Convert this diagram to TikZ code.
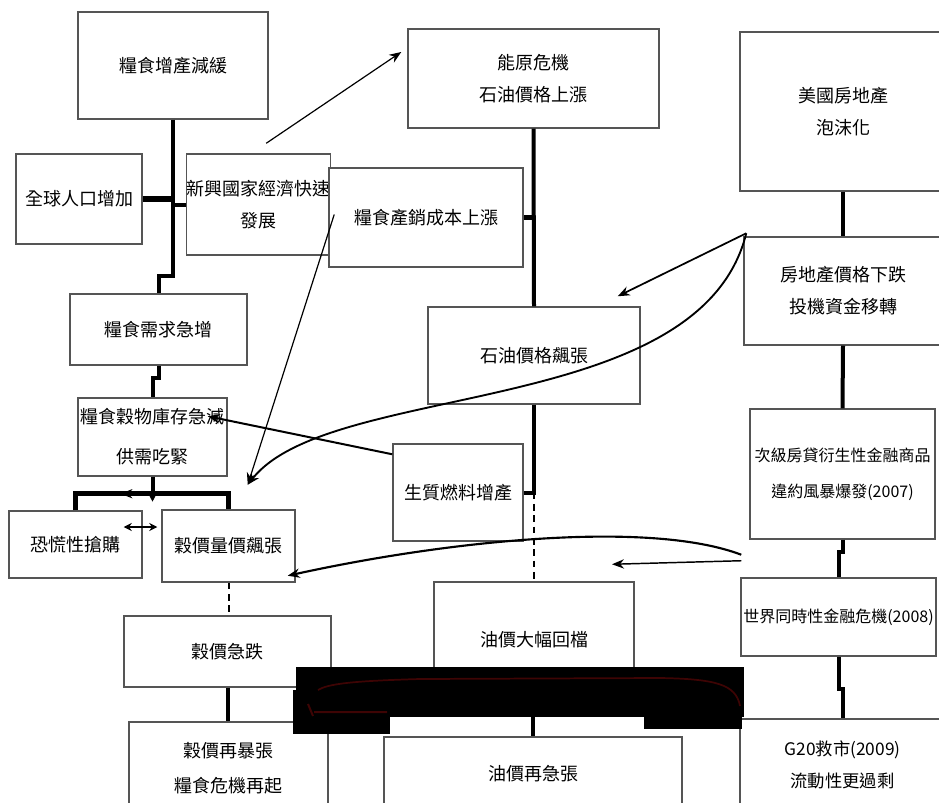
\documentclass[tikz,border=0pt]{standalone}
\usepackage{fontspec}
\setmainfont{Noto Sans CJK TC}
\usepackage{tikz}
\usetikzlibrary{arrows.meta,calc}
\definecolor{edge}{HTML}{555555}
\definecolor{blot}{HTML}{3E0404}
\tikzset{
  box/.style 2 args={draw=edge,line width=1.1pt,fill=white,inner sep=0pt,align=center,
    minimum width=#1*0.75pt,minimum height=#2*0.75pt,font=\fontsize{13.5}{24}\selectfont},
  tree/.style={line width=3pt},
  fat/.style={line width=4pt},
  dashlink/.style={line width=1.5pt,dash pattern=on 5pt off 3.5pt},
  arr/.style={-{Stealth[length=9pt,width=7pt]},line width=#1},
  arr/.default=0.9pt,
}

\begin{document}
\begin{tikzpicture}[x=0.75pt,y=-0.75pt]
\useasboundingbox (0,0) rectangle (939,803);
\clip (0,0) rectangle (939,803);
% food column
\node[box={190}{107}] (zengchan) at (173,65.5) {糧食增產減緩};
\node[box={126}{90}] (renkou) at (79,199) {全球人口增加};
\node[box={137}{101}] (xinxing) at (258.5,204.5) {新興國家經濟快速\\發展};
\node[box={177}{71}] (xuqiu) at (158.5,329.5) {糧食需求急增};
\node[box={149}{78},font=\fontsize{13.5}{30}\selectfont] (kucun) at (152.5,437) {糧食穀物庫存急減\\供需吃緊};
\node[box={133}{67}] (konghuang) at (75.5,544.5) {恐慌性搶購};
\node[box={133}{72}] (guzhang) at (228.5,546) {穀價量價飆張};
\node[box={207}{71}] (gudie) at (227.5,651.5) {穀價急跌};
\node[box={199}{93},font=\fontsize{13.5}{26}\selectfont] (guzai) at (228.5,768.5) {穀價再暴張\\糧食危機再起};
% oil column
\node[box={251}{99}] (nengyuan) at (533.5,78.5) {能原危機\\石油價格上漲};
\node[box={194}{99}] (chanxiao) at (426,217.5) {糧食產銷成本上漲};
\node[box={212}{97}] (shiyou) at (534,355.5) {石油價格飆張};
\node[box={130}{97}] (shengzhi) at (458,492.5) {生質燃料增產};
\node[box={200}{116}] (huidang) at (534,640) {油價大幅回檔};
\node[box={298}{73}] (zaiji) at (533,773.5) {油價再急張};
% finance column
\node[box={206}{159}] (meiguo) at (843,111.5) {美國房地產\\泡沫化};
\node[box={198}{108}] (fangjia) at (843,291) {房地產價格下跌\\投機資金移轉};
\node[box={185}{130},font=\fontsize{12}{27}\selectfont] (ciji) at (842.5,474) {次級房貸衍生性金融商品\\違約風暴爆發(2007)};
\node[box={195}{78},font=\fontsize{12}{20}\selectfont] (shijie) at (838.5,617) {世界同時性金融危機(2008)};
\node[box={205}{91},font=\fontsize{13}{24}\selectfont] (g20) at (842.5,764.5) {G20救市(2009)\\流動性更過剩};

% tree lines
\draw[tree] (zengchan.south) -- ++(0,156) -| (xuqiu.north);
\draw[fat] (renkou.east) -- (zengchan.south |- renkou.east);
\draw[tree] (zengchan.south |- xinxing.west) -- (xinxing.west);
\draw[tree] (xuqiu.south) -- ++(0,12) -| (kucun.north);
\coordinate (split) at ($(kucun.south)+(0,17)$);
\draw[fat] (konghuang.north) |- (split) -| (guzhang.north);
\draw[tree,-{Stealth[length=6pt,width=6pt]}] (kucun.south) -- ($(split)+(0,8)$);
\draw[arr=1pt] (split) -- ++(-32,0);
\draw[{Stealth[length=6pt,width=6pt]}-{Stealth[length=6pt,width=6pt]},line width=1.6pt] ($(konghuang.east)+(-19,-17.5)$) -- ($(guzhang.west |- konghuang.east)+(-4,-17.5)$);
\draw[dashlink] (guzhang.south) -- (guzhang.south |- gudie.north);
\draw[tree] (gudie.south) -- (gudie.south |- guzai.north);
\draw[tree] (nengyuan.south) -- (shiyou.north);
\draw[fat] (nengyuan.south |- chanxiao.east) -- (chanxiao.east);
\draw[tree] (shiyou.south) |- (shengzhi.east);
\draw[dashlink] (shiyou.south |- shengzhi.east) -- (huidang.north);
\draw[tree] (zaiji.north |- huidang.south) -- (zaiji.north);
\draw[tree] (meiguo.south) -- (fangjia.north);
\draw[tree] (fangjia.south) -- (ciji.north);
\draw[tree] (ciji.south) -- ++(0,12) -| (shijie.north);
\draw[tree] (shijie.south) -- ++(0,32) -| (g20.north);

% cross links
\coordinate (hit) at ($(kucun.south east)+(20,8)$);
\draw[arr=0.9pt] ($(xinxing.north east)+(-65,-10)$) -- ($(nengyuan.west)+(-6,-26.5)$);
\draw[arr=0.9pt] ($(xinxing.east)+(3,10)$) -- (hit);
\draw[arr=1.3pt] ($(fangjia.north west)+(3,-3)$) -- ($(shiyou.north east)+(-23,-10)$);
\draw[arr=1.4pt] ($(fangjia.north west)+(3,-3)$) .. controls (700,420) and (330,380) .. (hit);
\draw[arr=1.5pt] ($(shengzhi.north west)+(0,11)$) -- ($(kucun.north east)+(-20,19)$);
\draw[arr=1.6pt] ($(ciji.south west)+(-8,15)$) .. controls (650,520) and (450,540) .. ($(guzhang.south east)+(-8,-7)$);
\draw[arr=1.1pt] ($(ciji.south west)+(-8,21)$) -- ($(huidang.north)+(78,-17)$);

% printing blot
\fill (296,667) rectangle (744,717);
\fill (293,690) rectangle (390,734);
\fill (644,717) rectangle (742,729);
\draw[blot,line width=1.3pt] (740,706) .. controls (736,684) and (715,679) .. (660,678) -- (420,679) .. controls (350,681) and (328,684) .. (318,690);
\draw[blot,line width=1.5pt] (387,712) -- (314,712) (308,704) -- (313,716);
\end{tikzpicture}
\end{document}
